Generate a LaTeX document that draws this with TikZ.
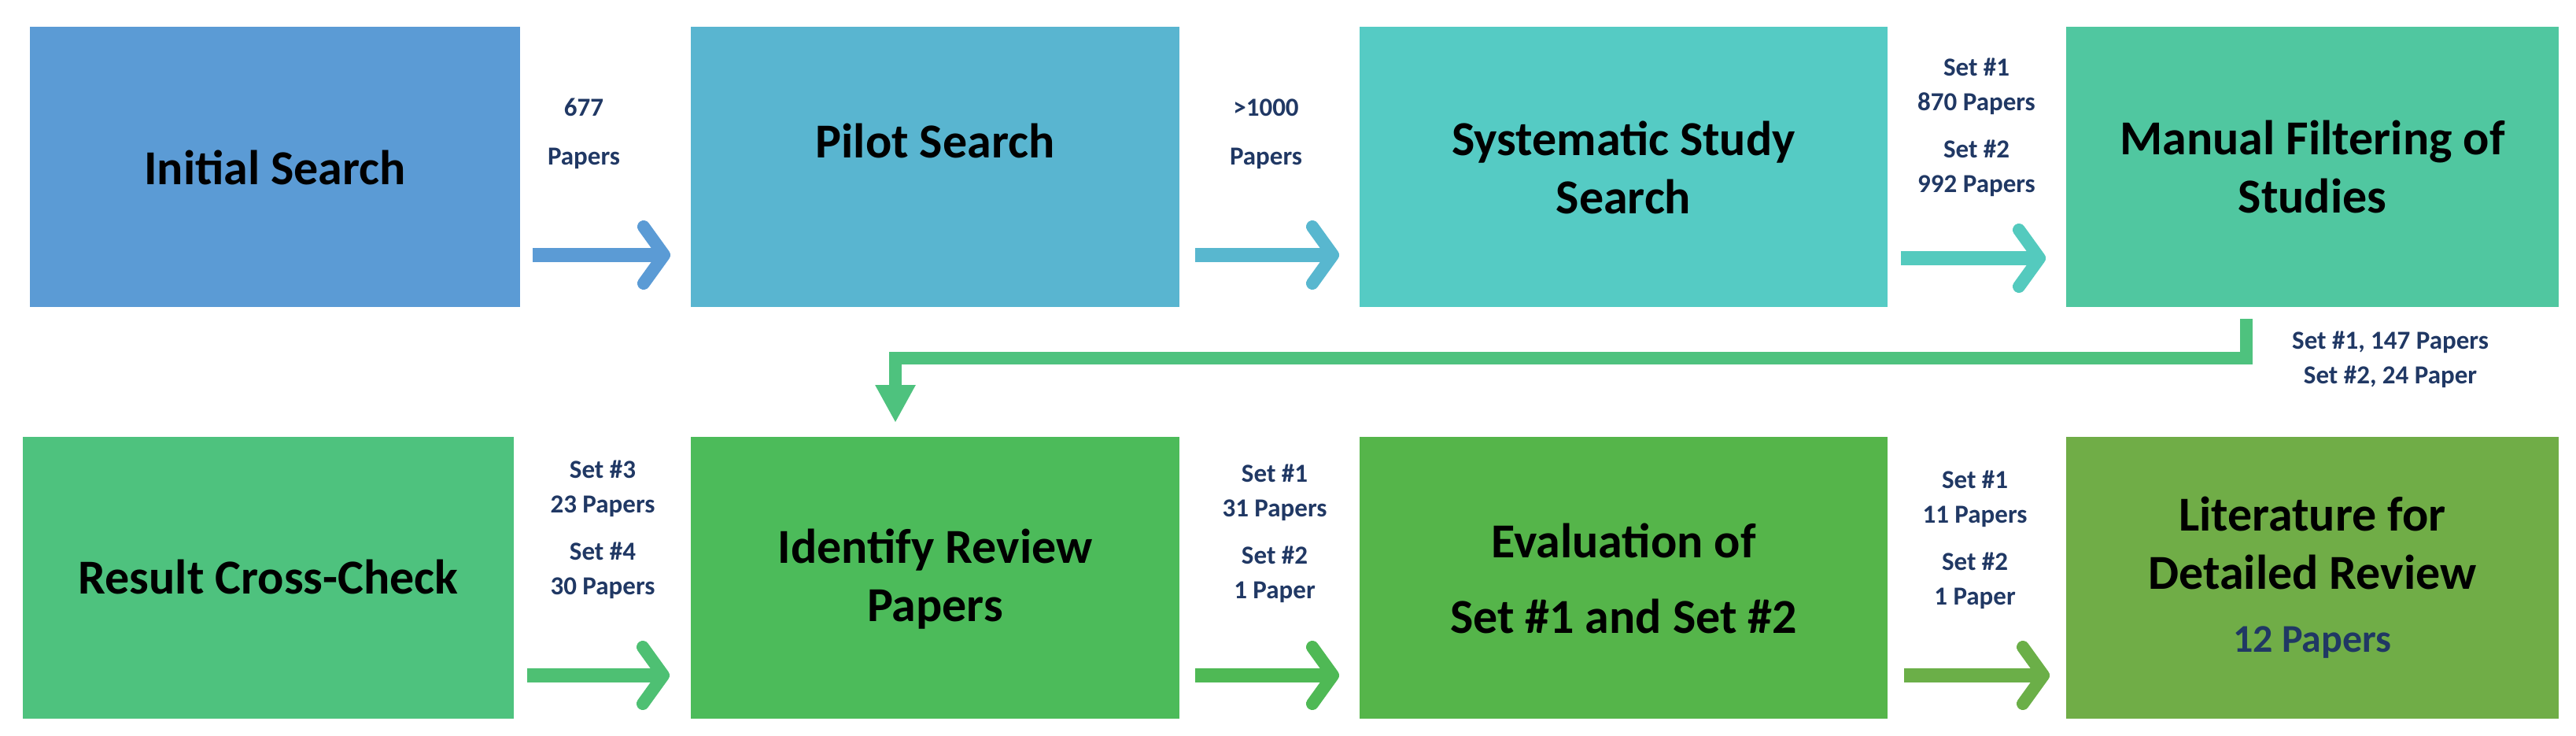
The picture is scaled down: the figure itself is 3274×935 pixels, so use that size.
\documentclass[tikz,border=0pt]{standalone}
\usepackage{fontspec}
\setmainfont{Carlito}
\usetikzlibrary{arrows.meta}
\definecolor{cA}{HTML}{5B9BD5}
\definecolor{cB}{HTML}{59B5D0}
\definecolor{cC}{HTML}{55CBC4}
\definecolor{cD}{HTML}{50C7A0}
\definecolor{cE}{HTML}{4EC27E}
\definecolor{cF}{HTML}{4CBB5A}
\definecolor{cG}{HTML}{55B54A}
\definecolor{cH}{HTML}{70AD47}
\definecolor{navy}{HTML}{203864}
\begin{document}
\begin{tikzpicture}[x=0.5pt,y=-0.5pt,
  box/.style={draw=none,inner sep=0},
  ttl/.style={font=\bfseries\fontsize{31}{37}\selectfont,align=center,text=black},
  lbl/.style={font=\bfseries\fontsize{16.5}{20}\selectfont,align=center,text=navy},
  arr/.style={line width=9pt,-{Straight Barb[length=13pt,width=36pt,line width=8pt,round]}}]
\useasboundingbox (0,0) rectangle (3274,935);
% row 1 boxes
\fill[cA] (38,34) rectangle (661,390) coordinate (b1se); \coordinate (b1nw) at (38,34);
\node[box] (b1) at (349.5,212) {};
\fill[cB] (878,34) rectangle (1499,390); \node[box] (b2) at (1188.5,212) {};
\fill[cC] (1728,34) rectangle (2399,390); \node[box] (b3) at (2063.5,212) {};
\fill[cD] (2626,34) rectangle (3252,390); \node[box] (b4) at (2939,212) {};
% row 2 boxes
\fill[cE] (29,555) rectangle (653,913); \node[box] (c1) at (341,734) {};
\fill[cF] (878,555) rectangle (1499,913); \node[box] (c2) at (1188.5,734) {};
\fill[cG] (1728,555) rectangle (2399,913); \node[box] (c3) at (2063.5,734) {};
\fill[cH] (2626,555) rectangle (3252,913); \node[box] (c4) at (2939,734) {};
% titles
\node[ttl] (t1) at (349.5,213) {Initial Search};
\node[ttl] (t2) at (1188.5,179) {Pilot Search};
\node[ttl] (t3) at (2063.5,213) {Systematic Study\\[0pt]Search};
\node[ttl] (t4) at (2939,212) {Manual Filtering of\\[0pt]Studies};
\node[ttl] (u1) at (341,733) {Result Cross-Check};
\node[ttl] (u2) at (1188.5,736) {Identify Review\\[0pt]Papers};
\node[ttl,font=\bfseries\fontsize{31}{48}\selectfont] (u3) at (2063.5,735) {Evaluation of\\Set \#1 and Set \#2};
\node[ttl] (u4) at (2939,690) {Literature for\\[0pt]Detailed Review};
\node[ttl,text=navy,font=\bfseries\fontsize{25}{30}\selectfont] (u5) at (2939,816) {12 Papers};
% labels
\node[lbl,font=\bfseries\fontsize{16.5}{31}\selectfont] (l1) at (742,170) {677\\Papers};
\node[lbl,font=\bfseries\fontsize{16.5}{31}\selectfont] (l2) at (1609,170) {>1000\\Papers};
\node[lbl,font=\bfseries\fontsize{16.5}{22}\selectfont] (l3) at (2512,162) {Set \#1\\870 Papers\\[8pt]Set \#2\\992 Papers};
\node[lbl,font=\bfseries\fontsize{16.5}{22}\selectfont] (l4) at (3038,457) {Set \#1, 147 Papers\\Set \#2, 24 Paper};
\node[lbl,font=\bfseries\fontsize{16.5}{22}\selectfont] (m1) at (766,673) {Set \#3\\23 Papers\\[8pt]Set \#4\\30 Papers};
\node[lbl,font=\bfseries\fontsize{16.5}{22}\selectfont] (m2) at (1620,678) {Set \#1\\31 Papers\\[8pt]Set \#2\\1 Paper};
\node[lbl,font=\bfseries\fontsize{16.5}{22}\selectfont] (m3) at (2510,686) {Set \#1\\11 Papers\\[8pt]Set \#2\\1 Paper};
% arrows
\coordinate (a1s) at (677,324); \coordinate (a1e) at (852,324);
\coordinate (a2s) at (1519,324); \coordinate (a2e) at (1702,324);
\coordinate (a3s) at (2416,328); \coordinate (a3e) at (2600,328);
\coordinate (d1s) at (670,858); \coordinate (d1e) at (851,858);
\coordinate (d2s) at (1519,858); \coordinate (d2e) at (1702,858);
\coordinate (d3s) at (2420,858); \coordinate (d3e) at (2605,858);
\draw[arr,cA] (a1s) -- (a1e);
\draw[arr,cB!90!cC] (a2s) -- (a2e);
\draw[arr,cC!85!cD] (a3s) -- (a3e);
\draw[arr,cE!70!cF] (d1s) -- (d1e);
\draw[arr,cF!70!cG] (d2s) -- (d2e);
\draw[arr,cH!80!cG] (d3s) -- (d3e);
% connector
\coordinate (k0) at (2855,405);
\coordinate (k1) at (1138,537);
\draw[cE,line width=8pt,-{Triangle[length=24pt,width=24pt]}] (k0) |- (1138,455) -- (k1);
\end{tikzpicture}
\end{document}
